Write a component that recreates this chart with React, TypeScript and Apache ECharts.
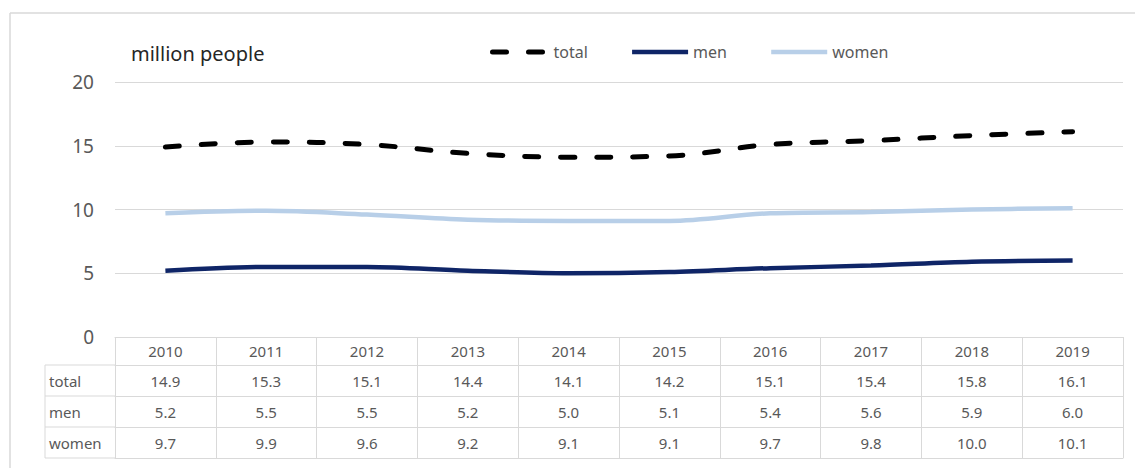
import React, { useEffect, useRef } from "react";
import * as echarts from "echarts";

const years = ["2010", "2011", "2012", "2013", "2014", "2015", "2016", "2017", "2018", "2019"];
const totalValues = [14.9, 15.3, 15.1, 14.4, 14.1, 14.2, 15.1, 15.4, 15.8, 16.1];
const menValues = [5.2, 5.5, 5.5, 5.2, 5.0, 5.1, 5.4, 5.6, 5.9, 6.0];
const womenValues = [9.7, 9.9, 9.6, 9.2, 9.1, 9.1, 9.7, 9.8, 10.0, 10.1];
const seriesNames = ["total", "men", "women"];
const seriesColors = ["#000000", "#0f2567", "#b8cfe8"];
const yTicks = { min: 0, max: 20, interval: 5 };
const unitLabel = "million people";

const W = 1135;
const H = 468;
const GRID_LEFT = 115;
const GRID_RIGHT = 12;
const GRID_TOP = 82;
const TABLE_TOP = 337;
const ROW_BOTTOMS = [365, 396, 427, 458];
const LABEL_COL_LEFT = 45;
const LINE_COLOR = "#d9d9d9";
const TEXT_COLOR = "#595959";
const FONT = "'Noto Sans', 'DejaVu Sans', sans-serif";

export default function App() {
  const ref = useRef<HTMLDivElement>(null);

  useEffect(() => {
    if (!ref.current) return;
    const chart = echarts.init(ref.current, undefined, { renderer: "svg" });
    const rowValues = [totalValues, menValues, womenValues];

    const valueAxes = rowValues.map((vals, i) => ({
      type: "category",
      gridIndex: 0,
      position: "bottom",
      offset: ROW_BOTTOMS[i] - TABLE_TOP,
      data: vals.map((v) => v.toFixed(1)),
      boundaryGap: true,
      axisLine: { show: true, lineStyle: { color: LINE_COLOR, width: 1 } },
      axisTick: { show: false },
      axisLabel: { interval: 0, margin: 8, fontSize: 15, color: TEXT_COLOR, fontFamily: FONT },
      splitLine: { show: false },
    }));

    const graphics: any[] = [
      { type: "line", shape: { x1: 10, y1: 13, x2: 10, y2: H }, style: { stroke: LINE_COLOR, lineWidth: 1.5 } },
      { type: "line", shape: { x1: 10, y1: 13, x2: W, y2: 13 }, style: { stroke: LINE_COLOR, lineWidth: 1.5 } },
      {
        type: "text",
        left: 131,
        top: 43,
        style: { text: unitLabel, fontSize: 20, fill: "#262626", fontFamily: FONT },
      },
      {
        type: "line",
        shape: { x1: LABEL_COL_LEFT, y1: ROW_BOTTOMS[0], x2: LABEL_COL_LEFT, y2: ROW_BOTTOMS[3] },
        style: { stroke: LINE_COLOR, lineWidth: 1 },
      },
      ...ROW_BOTTOMS.map((y) => ({
        type: "line",
        shape: { x1: LABEL_COL_LEFT, y1: y, x2: GRID_LEFT, y2: y },
        style: { stroke: LINE_COLOR, lineWidth: 1 },
      })),
      ...seriesNames.map((name, i) => ({
        type: "text",
        x: LABEL_COL_LEFT + 4,
        y: (ROW_BOTTOMS[i] + ROW_BOTTOMS[i + 1]) / 2,
        style: {
          text: name,
          fontSize: 15,
          fill: TEXT_COLOR,
          fontFamily: FONT,
          verticalAlign: "middle",
          align: "left",
        },
      })),
    ];

    const lineStyles = [
      { width: 5, type: [14, 22], cap: "round", color: seriesColors[0] },
      { width: 4.5, type: "solid", color: seriesColors[1] },
      { width: 4.5, type: "solid", color: seriesColors[2] },
    ];
    const dataArrays = [totalValues, menValues, womenValues];

    chart.setOption({
      animation: false,
      textStyle: { fontFamily: FONT },
      grid: { left: GRID_LEFT, right: GRID_RIGHT, top: GRID_TOP, bottom: H - TABLE_TOP, containLabel: false },
      legend: {
        left: 485,
        top: 39,
        itemWidth: 56,
        itemHeight: 14,
        itemGap: 42,
        itemStyle: { opacity: 0 },
        textStyle: { fontSize: 16, color: TEXT_COLOR, fontFamily: FONT },
        data: seriesNames.map((name, i) => ({
          name,
          lineStyle: lineStyles[i],
          itemStyle: { opacity: 0 },
        })),
      },
      xAxis: [
        {
          type: "category",
          data: years,
          boundaryGap: true,
          position: "bottom",
          axisLine: { show: true, lineStyle: { color: LINE_COLOR, width: 1 } },
          axisTick: {
            show: true,
            interval: 0,
            length: ROW_BOTTOMS[3] - TABLE_TOP,
            lineStyle: { color: LINE_COLOR, width: 1 },
          },
          axisLabel: { interval: 0, margin: 6, fontSize: 15, color: TEXT_COLOR, fontFamily: FONT },
          splitLine: { show: false },
        },
        ...valueAxes,
        {
          type: "category",
          gridIndex: 0,
          position: "bottom",
          offset: ROW_BOTTOMS[3] - TABLE_TOP,
          data: years,
          axisLine: { show: true, lineStyle: { color: LINE_COLOR, width: 1 } },
          axisTick: { show: false },
          axisLabel: { show: false },
        },
      ],
      yAxis: {
        type: "value",
        min: yTicks.min,
        max: yTicks.max,
        interval: yTicks.interval,
        axisLine: { show: false },
        axisTick: { show: false },
        axisLabel: { fontSize: 19, color: TEXT_COLOR, margin: 21, fontFamily: FONT },
        splitLine: { lineStyle: { color: LINE_COLOR, width: 1 } },
      },
      series: seriesNames.map((name, i) => ({
        name,
        type: "line",
        xAxisIndex: 0,
        yAxisIndex: 0,
        data: dataArrays[i],
        smooth: 0.35,
        symbol: "none",
        lineStyle: lineStyles[i],
        itemStyle: { color: seriesColors[i] },
        z: 3 - i,
      })),
      graphic: graphics,
    });

    return () => chart.dispose();
  }, []);

  return (
    <div
      ref={ref}
      style={{ position: "absolute", left: 0, top: 0, width: W, height: H, background: "#ffffff" }}
    />
  );
}
